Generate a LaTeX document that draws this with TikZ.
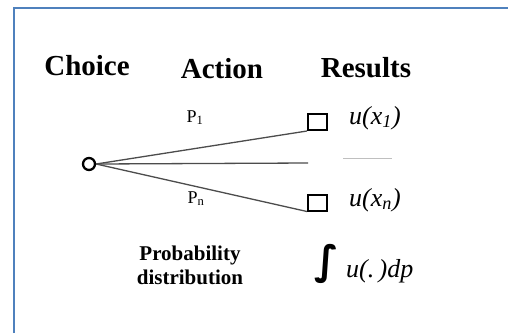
\documentclass[tikz,border=0pt]{standalone}
\usepackage{fontspec}
\setmainfont{Liberation Serif}
\newfontfamily\symfnt{DejaVu Sans}
\usetikzlibrary{positioning}
\definecolor{frameblue}{HTML}{4F81BD}

\begin{document}
\begin{tikzpicture}[x=1pt,y=-1pt,
      head/.style={font=\bfseries\fontsize{29}{31}\selectfont,anchor=base},
      prob/.style={font=\fontsize{18}{20}\selectfont,anchor=base},
      res/.style={draw,line width=2pt,minimum width=19pt,minimum height=16pt,inner sep=0pt},
      util/.style={font=\itshape\fontsize{26}{28}\selectfont,anchor=base west,inner sep=0pt},
      branch/.style={draw=black!70,line width=1.3pt}]
    \useasboundingbox (0,0) rectangle (508,333);
    \fill[white] (0,0) rectangle (508,333);
    % frame
    \draw[frameblue,line width=2pt] (14,333) -- (14,8) -- (508,8);

    \node[head] (chc) at (87,75) {Choice};
    \node[head] (act) at (222,78) {Action};
    \node[head] (rsl) at (366,77) {Results};

    \node[draw,circle,line width=2.3pt,minimum size=12pt,inner sep=0pt] (dec) at (89,164) {};
    \node[res] (r1) at (317.5,122) {};
    \node[res] (rn) at (317.5,202.5) {};
    \coordinate (mid) at (308,163);

    \draw[branch] (dec.east) -- (r1.south west);
    \draw[branch] (dec.east) -- (mid);
    \draw[branch] (dec.east) -- (rn.south west);

    \node[prob] (p1) at (195,122) {P\textsubscript{1}};
    \node[prob] (pn) at (196,203) {P\textsubscript{n}};

    \node[util] (u1) at (349,124) {u(x\textsubscript{1})};
    \node[util] (un) at (349,206) {u(x\textsubscript{n})};
    \coordinate (gl) at (343,158);
    \coordinate (gr) at (392,158);
    \draw[black!25,line width=1pt] (gl) -- (gr);

    \node[font=\bfseries\fontsize{21}{24}\selectfont,align=center] (dist) at (190,265) {Probability\\distribution};
    \node[font=\symfnt\bfseries\fontsize{40}{42}\selectfont,inner sep=0pt] (intg) at (327,264) {∫};
    \node[util] (eu) at (346,277) {u(.\,)dp};
  \end{tikzpicture}
\end{document}
